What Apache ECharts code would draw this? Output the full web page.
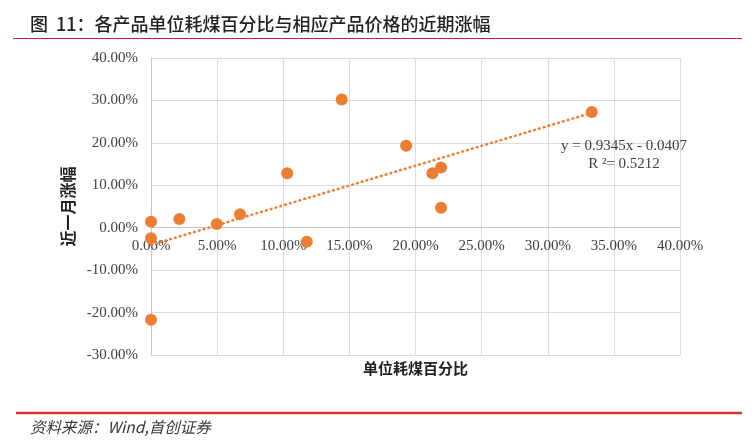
<!DOCTYPE html>
<html>
<head>
<meta charset="utf-8">
<script src="https://cdn.jsdelivr.net/npm/echarts@6/dist/echarts.min.js"></script>
<style>
html,body{margin:0;padding:0;background:#fff;}
#main{width:755px;height:446px;}
</style>
</head>
<body>
<div id="main"></div>
<script>
// 单位耗煤百分比 (%)
const coalShare = [0, 0, 0, 2.14, 4.97, 6.73, 10.3, 11.78, 14.42, 19.29, 21.28, 21.93, 21.93, 33.33];
// 近一月涨幅 (%)
const priceChange = [1.4, -2.5, -21.7, 2.05, 0.87, 3.17, 12.86, -3.3, 30.2, 19.3, 12.86, 14.2, 4.7, 27.3];
// trendline end points: y = 0.9345x - 0.0407
const trendX = [0, 33.33];
const trendY = [-4.07, 27.08];
const xTicks = {min: 0, max: 40, interval: 5};
const yTicks = {min: -30, max: 40, interval: 10};
const titleText = '图  11：各产品单位耗煤百分比与相应产品价格的近期涨幅';
const sourceText = '资料来源：Wind,首创证券';
const eqText = 'y = 0.9345x - 0.0407';
const r2Text = 'R ²= 0.5212';

const chart = echarts.init(document.getElementById('main'), null, {renderer: 'canvas'});
const serif = '"Liberation Serif", "Times New Roman", serif';
const cjk = '"Noto Sans CJK SC", sans-serif';
const pct = v => v.toFixed(2) + '%';

const gridTop = 58, gridBottom = 91, chartH = 446;
const plotH = chartH - gridTop - gridBottom;
// place the x axis where y = 0 (the axis crosses at zero)
const zeroOffset = -plotH * (0 - yTicks.min) / (yTicks.max - yTicks.min);

chart.setOption({
  backgroundColor: '#fff',
  animation: false,
  grid: {left: 151, right: 75, top: gridTop, bottom: gridBottom, containLabel: false, outerBoundsMode: 'none'},
  xAxis: {
    type: 'value', min: xTicks.min, max: xTicks.max, interval: xTicks.interval,
    offset: zeroOffset,
    axisLine: {show: true, onZero: false, lineStyle: {color: '#c4c4c4', width: 1}},
    axisTick: {show: false},
    axisLabel: {formatter: pct, color: '#404040', fontFamily: serif, fontSize: 15, margin: 11},
    splitLine: {show: true, lineStyle: {color: '#dcdcdc', width: 1}},
    name: '单位耗煤百分比', nameLocation: 'middle', nameGap: 133,
    nameTextStyle: {fontFamily: cjk, fontWeight: 'bold', fontSize: 15, color: '#222'}
  },
  yAxis: {
    type: 'value', min: yTicks.min, max: yTicks.max, interval: yTicks.interval,
    axisLine: {show: true, onZero: false, lineStyle: {color: '#c8c8c8', width: 1}},
    axisTick: {show: false},
    axisLabel: {formatter: pct, color: '#404040', fontFamily: serif, fontSize: 15, margin: 13},
    splitLine: {show: true, lineStyle: {color: '#dcdcdc', width: 1}},
    name: '近一月涨幅', nameLocation: 'middle', nameGap: 74,
    nameTextStyle: {fontFamily: cjk, fontWeight: 'bold', fontSize: 16, color: '#222'}
  },
  series: [
    {
      type: 'line',
      data: trendX.map((x, i) => [x, trendY[i]]),
      showSymbol: false, symbol: 'none',
      lineStyle: {color: '#ed7d31', width: 2.5, type: [0.8, 4.2], cap: 'round'},
      z: 2, silent: true
    },
    {
      type: 'scatter',
      data: coalShare.map((x, i) => [x, priceChange[i]]),
      symbolSize: 12,
      itemStyle: {color: '#ed7d31', opacity: 1},
      z: 3
    }
  ],
  graphic: [
    {type: 'text', left: 30, top: 15, style: {text: titleText, font: '500 18px ' + cjk, fill: '#222'}},
    {type: 'line', shape: {x1: 13, y1: 38.5, x2: 742, y2: 38.5}, style: {stroke: '#c8282c', lineWidth: 1.2}},
    {type: 'text', x: 624, y: 146, z: 10, style: {text: eqText, font: '15px ' + serif, fill: '#404040', align: 'center', verticalAlign: 'middle'}},
    {type: 'text', x: 624, y: 164, z: 10, style: {text: r2Text, font: '15px ' + serif, fill: '#404040', align: 'center', verticalAlign: 'middle'}},
    {type: 'line', shape: {x1: 16, y1: 413, x2: 742, y2: 413}, style: {stroke: '#d6312f', lineWidth: 2.5}},
    {type: 'text', left: 30, top: 419, style: {text: sourceText, font: 'italic 15.5px ' + cjk, fill: '#3a3a3a'}}
  ]
});
</script>
</body>
</html>
